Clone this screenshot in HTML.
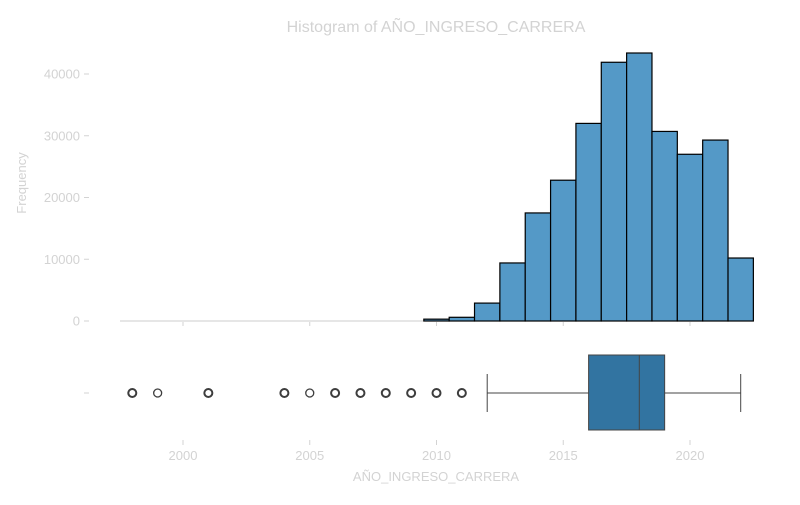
<!DOCTYPE html>
<html><head><meta charset="utf-8"><style>
body{margin:0;background:#fff}
svg text{font-family:"Liberation Sans","DejaVu Sans",sans-serif;fill:#d3d3d3}
</style></head><body>
<svg id="c" width="800" height="500">
<text x="436" y="32" font-size="16" text-anchor="middle">Histogram of AÑO_INGRESO_CARRERA</text>
<text x="26" y="183" font-size="13" text-anchor="middle" transform="rotate(-90 26 183)">Frequency</text>
<text x="436" y="481" font-size="13" text-anchor="middle">AÑO_INGRESO_CARRERA</text>
<g id="g"></g>
</svg>
<script>
const binStarts=[2009.5,2010.5,2011.5,2012.5,2013.5,2014.5,2015.5,2016.5,2017.5,2018.5,2019.5,2020.5,2021.5];
const counts=[300,600,2900,9400,17500,22800,32000,41900,43400,30700,27000,29300,10200];
const yTicks=[0,10000,20000,30000,40000];
const xTicks=[2000,2005,2010,2015,2020];
const outliers=[1998,1999,2001,2004,2005,2006,2007,2008,2009,2010,2011];
const boxStats=[2012,2016,2018,2019,2022];
const binWidth=1;
const X=v=>183+(v-2000)*25.35;
const Y=v=>321-v*247/40000;
const NS="http://www.w3.org/2000/svg";
const g=document.getElementById('g');
function mk(t,a){const e=document.createElementNS(NS,t);for(const k in a)e.setAttribute(k,a[k]);g.appendChild(e);return e;}
let e=mk('line',{x1:120,x2:754,y1:321,y2:321,stroke:'#cccccc'});


yTicks.forEach(t=>{
 let l=mk('line',{x1:84,x2:89,y1:Y(t),y2:Y(t),stroke:'#d3d3d3'});
 
 
 let tx=mk('text',{x:80,y:Y(t)+4.5,'font-size':13,'text-anchor':'end'});tx.textContent=t;
 
 
});
xTicks.forEach(t=>{
 let l=mk('line',{x1:X(t),x2:X(t),y1:322,y2:326,stroke:'#d3d3d3'});
 
 
 let l2=mk('line',{x1:X(t),x2:X(t),y1:440,y2:445,stroke:'#d3d3d3'});
 
 
 let tx=mk('text',{x:X(t),y:460,'font-size':13,'text-anchor':'middle'});tx.textContent=t;
 
 
});
binStarts.forEach((b,i)=>{
 let r=mk('rect',{x:X(b),y:Y(counts[i]),width:X(b+binWidth)-X(b),height:Y(0)-Y(counts[i]),fill:'#5499c7',stroke:'#000','stroke-width':1.2});
 
 
});
const cy=393;
let yt=mk('line',{x1:84,x2:89,y1:cy,y2:cy,stroke:'#d3d3d3'});


const [wl,q1,med,q3,wh]=boxStats;
let w=mk('line',{x1:X(wl),x2:X(q1),y1:cy,y2:cy,stroke:'#444'});


let w2=mk('line',{x1:X(q3),x2:X(wh),y1:cy,y2:cy,stroke:'#444'});


[wl,wh].forEach(v=>{let c=mk('line',{x1:X(v),x2:X(v),y1:374,y2:412,stroke:'#444'});
 
 });
let bx=mk('rect',{x:X(q1),y:355,width:X(q3)-X(q1),height:75,fill:'#3274a1',stroke:'#444'});


let md=mk('line',{x1:X(med),x2:X(med),y1:355,y2:430,stroke:'#444'});


outliers.forEach(o=>{let c=mk('circle',{cx:X(o),cy:cy,r:4,fill:'none',stroke:'#3d3d3d','stroke-width':o==1999||o==2005?1.3:2});
 
 });
</script>
</body></html>
